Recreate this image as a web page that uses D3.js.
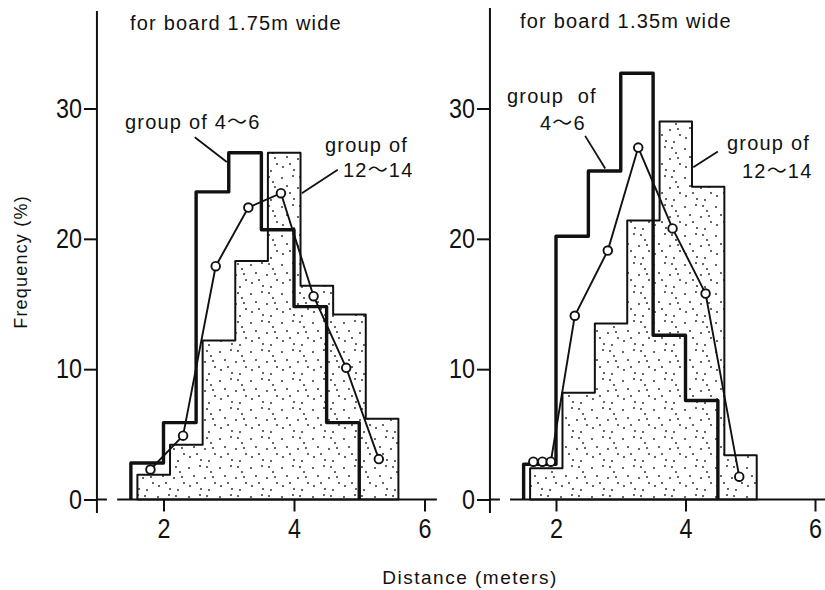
<!DOCTYPE html>
<html><head><meta charset="utf-8">
<script src="https://cdn.jsdelivr.net/npm/d3@7"></script>
<style>body{margin:0;background:#fff} svg{display:block}</style>
</head><body>
<svg id="c" width="825" height="590"></svg>
<script>
// ---------- data ----------
const yTicks = [0, 10, 20, 30];
const xTicks = [2, 4, 6];

// board 1.75 m
const leftSmallEdges = [1.5, 2.0, 2.5, 3.0, 3.5, 4.0, 4.5, 5.0];
const leftSmallFreq  = [2.8, 5.9, 23.6, 26.6, 20.7, 14.8, 5.9];
const leftLargeEdges = [1.6, 2.1, 2.6, 3.1, 3.6, 4.1, 4.6, 5.1, 5.6];
const leftLargeFreq  = [1.9, 4.2, 12.2, 18.3, 26.6, 16.4, 14.2, 6.2];
const leftLineX = [1.8, 2.3, 2.8, 3.3, 3.8, 4.3, 4.8, 5.3];
const leftLineY = [2.3, 4.9, 17.9, 22.4, 23.5, 15.6, 10.1, 3.1];

// board 1.35 m
const rightSmallEdges = [1.5, 2.0, 2.5, 3.0, 3.5, 4.0, 4.5];
const rightSmallFreq  = [2.7, 20.2, 25.2, 32.7, 12.6, 7.6];
const rightLargeEdges = [1.6, 2.1, 2.6, 3.1, 3.6, 4.1, 4.6, 5.1];
const rightLargeFreq  = [2.4, 8.2, 13.5, 21.4, 29.0, 24.0, 3.4];
const rightLineX = [1.65, 1.79, 1.92, 2.29, 2.8, 3.27, 3.8, 4.31, 4.83];
const rightLineY = [2.9, 2.9, 2.9, 14.1, 19.1, 27.0, 20.8, 15.8, 1.75];

const titles = ["for board 1.75m wide", "for board 1.35m wide"];
const xLabel = "Distance (meters)";
const yLabel = "Frequency (%)";

// ---------- setup ----------
const svg = d3.select("#c");
const INK = "#111";
const TXT = "'Liberation Sans', Arial, 'Noto Sans CJK JP', sans-serif";
const NUM = "'Liberation Sans Narrow', 'Liberation Sans', sans-serif";

const defs = svg.append("defs");
const pat = defs.append("pattern").attr("id", "stip")
  .attr("patternUnits", "userSpaceOnUse").attr("width", 31).attr("height", 29);
pat.append("rect").attr("width", 31).attr("height", 29).attr("fill", "#fff");
[[3,4],[14,2],[25,8],[8,12],[19,14],[29,19],[4,22],[15,25],[23,26],[11,19],[21,3],[27,13]]
  .forEach(([a,b]) => pat.append("circle").attr("cx", a).attr("cy", b).attr("r", 0.95).attr("fill", "#222"));

const y = d3.scaleLinear().domain([0, 30]).range([499.5, 108.5]);

const panels = [
  { x: d3.scaleLinear().domain([2, 6]).range([163.5, 424.5]),
    sE: leftSmallEdges, sF: leftSmallFreq, lE: leftLargeEdges, lF: leftLargeFreq,
    pX: leftLineX, pY: leftLineY, title: titles[0], axisTop: 11, xEnd: 6.19,
    notes: [
      { lines: ["group of 4\u301C6"], tx: 125, ty: [129], from: [2.48, 27.8], to: [2.97, 25.9] },
      { lines: ["group of", "12\u301C14"], tx: [325, 343], ty: [152, 177], from: [4.67, 25.3], to: [4.12, 23.5] }
    ], titleX: 130, titleY: 30 },
  { x: d3.scaleLinear().domain([2, 6]).range([556, 815]),
    sE: rightSmallEdges, sF: rightSmallFreq, lE: rightLargeEdges, lF: rightLargeFreq,
    pX: rightLineX, pY: rightLineY, title: titles[1], axisTop: 8, xEnd: 6.4,
    notes: [
      { lines: ["group  of", "4\u301C6"], tx: [507, 540], ty: [103, 130], from: [2.45, 27.9], to: [2.76, 25.4] },
      { lines: ["group of", "12\u301C14"], tx: [727, 742], ty: [150, 178], from: [4.5, 26.7], to: [4.12, 25.5] }
    ], titleX: 520, titleY: 28 }
];

function stepPts(x, edges, vals) {
  const pts = [[x(edges[0]), y(0)]];
  vals.forEach((v, i) => { pts.push([x(edges[i]), y(v)]); pts.push([x(edges[i+1]), y(v)]); });
  pts.push([x(edges[edges.length-1]), y(0)]);
  return pts;
}
const line = d3.line();

function styleNum(sel) {
  sel.attr("font-family", NUM).attr("font-size", 27).attr("fill", INK)
    .attr("lengthAdjust", "spacingAndGlyphs")
    .attr("textLength", function() { return this.textContent.length * 13; });
}

panels.forEach(p => {
  const x = p.x;
  const g = svg.append("g");
  const yAxisX = x(0.98);

  // stippled histogram (group of 12~14)
  const lp = stepPts(x, p.lE, p.lF);
  g.append("path").attr("d", line(lp) + "Z").attr("fill", "url(#stip)")
    .attr("stroke", INK).attr("stroke-width", 2).attr("stroke-linejoin", "round");

  // bold outline histogram (group of 4~6)
  const sp = stepPts(x, p.sE, p.sF);
  g.append("path").attr("d", line(sp)).attr("fill", "none")
    .attr("stroke", INK).attr("stroke-width", 3.4).attr("stroke-linejoin", "round");

  // line with circles
  const pts = p.pX.map((v, i) => [x(v), y(p.pY[i])]);
  g.append("path").attr("d", line(pts)).attr("fill", "none").attr("stroke", INK).attr("stroke-width", 1.9);
  g.selectAll("circle.pt").data(pts).join("circle").attr("class", "pt")
    .attr("cx", d => d[0]).attr("cy", d => d[1]).attr("r", 4.3)
    .attr("fill", "#fff").attr("stroke", INK).attr("stroke-width", 1.9);

  // y axis
  g.append("line").attr("x1", yAxisX).attr("x2", yAxisX).attr("y1", p.axisTop).attr("y2", 513)
    .attr("stroke", INK).attr("stroke-width", 2);
  const gy = g.append("g").attr("transform", `translate(${yAxisX},0)`)
    .call(d3.axisLeft(y).tickValues(yTicks).tickSize(13).tickPadding(2).tickFormat(d3.format("d")));
  gy.select(".domain").remove();
  gy.selectAll(".tick line").attr("stroke", INK).attr("stroke-width", 2);
  styleNum(gy.selectAll(".tick text"));
  g.append("line").attr("x1", yAxisX).attr("x2", yAxisX + 10).attr("y1", y(0)).attr("y2", y(0))
    .attr("stroke", INK).attr("stroke-width", 2);

  // x axis
  g.append("line").attr("x1", x(1.29)).attr("x2", x(p.xEnd)).attr("y1", y(0)).attr("y2", y(0))
    .attr("stroke", INK).attr("stroke-width", 2.2);
  const gx = g.append("g").attr("transform", `translate(0,${y(0)})`)
    .call(d3.axisBottom(x).tickValues(xTicks).tickSize(12).tickPadding(7).tickFormat(d3.format("d")));
  gx.select(".domain").remove();
  gx.selectAll(".tick line").attr("stroke", INK).attr("stroke-width", 2);
  styleNum(gx.selectAll(".tick text"));

  // title
  g.append("text").attr("x", p.titleX).attr("y", p.titleY).text(p.title)
    .attr("font-family", TXT).attr("font-size", 20).attr("letter-spacing", 1.2).attr("fill", INK);

  // annotations
  p.notes.forEach(n => {
    n.lines.forEach((t, i) => {
      g.append("text").attr("x", Array.isArray(n.tx) ? n.tx[i] : n.tx).attr("y", n.ty[i]).text(t)
        .attr("font-family", TXT).attr("font-size", 20).attr("letter-spacing", 1.2).attr("fill", INK)
        .attr("xml:space", "preserve").style("white-space", "pre");
    });
    g.append("line").attr("x1", x(n.from[0])).attr("y1", y(n.from[1]))
      .attr("x2", x(n.to[0])).attr("y2", y(n.to[1])).attr("stroke", INK).attr("stroke-width", 1.8);
  });
});

// axis titles
svg.append("text").attr("x", 470).attr("y", 584).attr("text-anchor", "middle").text(xLabel)
  .attr("font-family", TXT).attr("font-size", 19).attr("letter-spacing", 1.5).attr("fill", INK);
svg.append("text").attr("transform", "translate(27,262) rotate(-90)").attr("text-anchor", "middle").text(yLabel)
  .attr("font-family", TXT).attr("font-size", 18).attr("letter-spacing", 1.2).attr("fill", INK);
</script>
</body></html>
